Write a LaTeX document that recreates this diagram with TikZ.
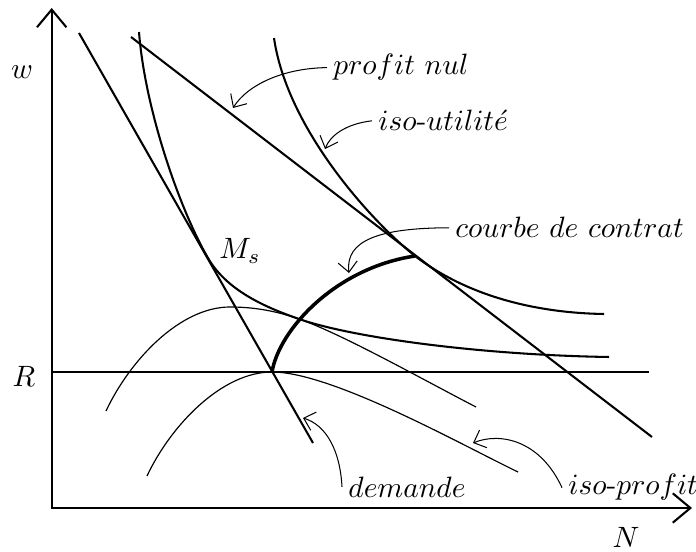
\documentclass[tikz,border=0pt]{standalone}
\usetikzlibrary{arrows.meta}

\begin{document}
\begin{tikzpicture}[x=0.01195cm, y=-0.01195cm,
  courbe/.style={line width=0.7pt},
  fine/.style={line width=0.4pt},
  renvoi/.style={line width=0.35pt, -{Straight Barb[length=3.5pt,width=6.5pt]}},
  etiq/.style={anchor=base west, inner sep=2pt}]
\useasboundingbox (0,0) rectangle (696,552);

\coordinate (haut)   at (51.7,8);
\coordinate (O)      at (51.7,508);
\coordinate (droite) at (692,508);
\coordinate (A)  at (272,372);
\coordinate (B)  at (415,256);
\coordinate (C)  at (299,319);
\coordinate (Ms) at (208,258);

\draw[courbe, {Straight Barb[length=6pt,width=10pt]}-{Straight Barb[length=6pt,width=10pt]}]
  (haut) -- (O) -- (droite);

\node (w) at (22,72)  {$w$};
\node (R) at (24,376) {$R$};
\node (N) at (626,537) {$N$};

\draw[courbe] (51.7,372) -- (649,372);
\draw[courbe] (79,33) -- (313,443);
\draw[courbe] (131,37) -- (652,437);

\draw[courbe] (139,32) .. controls (145,110) and (180,210) .. (Ms)
              .. controls (228,293) and (272,309.5) .. (C)
              .. controls (352,337.5) and (480,355) .. (609,357);
\draw[courbe] (274,38) .. controls (287,128) and (370,220) .. (B)
              .. controls (470,298) and (540,313) .. (604,314);

\draw[fine] (106,411) .. controls (130,360) and (180,307) .. (230,307)
            .. controls (255,307) and (277,311.3) .. (C)
            .. controls (342,334) and (420,378) .. (476,407);
\draw[fine] (147,476) .. controls (171,425) and (222,372) .. (A)
            .. controls (332,372) and (462,445) .. (518,472);

\draw[line width=1.2pt] (A) .. controls (279,330) and (335,268) .. (B);

\node[etiq] (ms) at (213,259) {$M_s$};

\node[etiq] (pnul)    at (327,75)  {$profit\ nul$};
\node[etiq] (isou)    at (372,131) {$iso$-$utilit\acute{e}$};
\node[etiq] (contrat) at (449,238) {$courbe\ de\ contrat$};
\node[etiq] (dem)     at (342,497) {$demande$};
\node[etiq] (isop)    at (562,495) {$iso$-$profit$};

\coordinate (tpn) at (233,108);
\coordinate (tiu) at (325,149);
\coordinate (tcc) at (349,273);
\coordinate (tde) at (303,418);
\coordinate (tip) at (473,443);

\draw[renvoi] (pnul.west)    .. controls (285,68) and (248,84) .. (tpn);
\draw[renvoi] (isou.west)    .. controls (345,124) and (330,136) .. (tiu);
\draw[renvoi] (contrat.west) .. controls (380,228) and (345,240) .. (tcc);
\draw[renvoi] (dem.west)     .. controls (340,450) and (326,425) .. (tde);
\draw[renvoi] (isop.west)    .. controls (540,440) and (500,432) .. (tip);
\end{tikzpicture}
\end{document}
